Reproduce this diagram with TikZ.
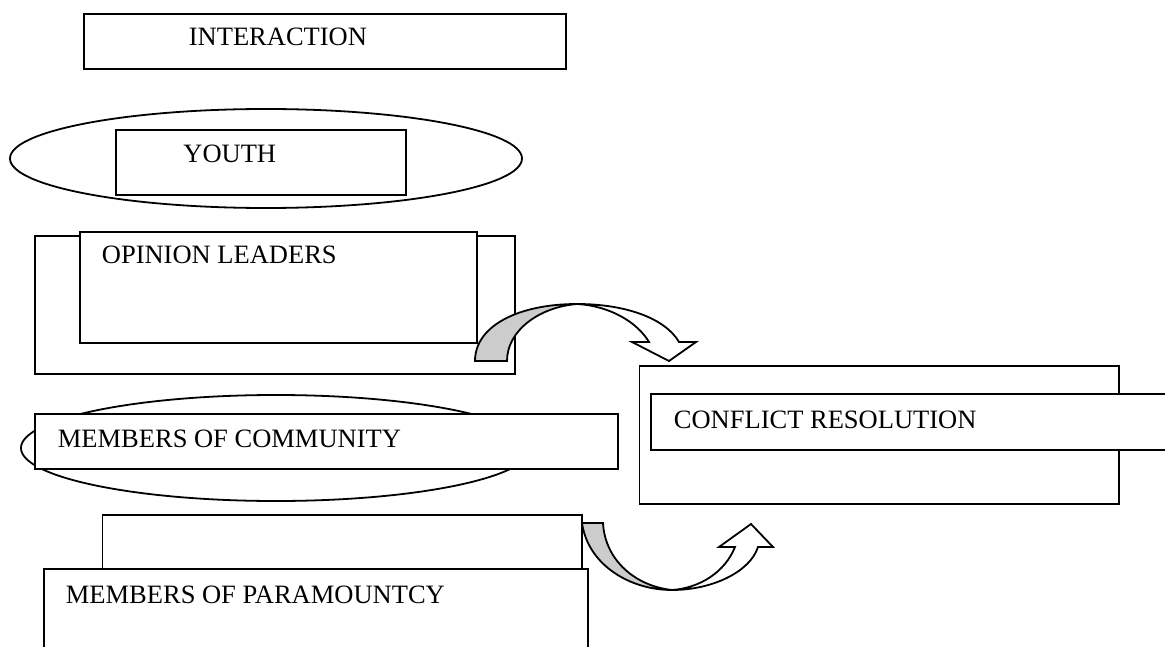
\documentclass[tikz,border=0pt]{standalone}
\usepackage{fontspec}
\setmainfont{Liberation Serif}
\begin{document}
\begin{tikzpicture}[x=1pt,y=-1pt,
  line width=1.8pt, line join=miter,
  box/.style={draw=black, fill=white, inner sep=0pt, anchor=north west},
  lbl/.style={inner sep=0pt, anchor=base west, font=\fontsize{26.5}{30}\selectfont},
  back/.style={draw=black, fill=black!20},
  front/.style={draw=black, fill=white}]
\clip (0,0) rectangle (1165,647);
\fill[white] (0,0) rectangle (1165,647);

% INTERACTION
\node[box, minimum width=482pt, minimum height=55pt] (inter) at (83,13) {};
\node[lbl] (tinter) at (188,46) {INTERACTION};

% YOUTH
\draw (266,158.5) ellipse [x radius=256pt, y radius=49.5pt];
\node[box, minimum width=290pt, minimum height=65pt] (youth) at (115,129) {};
\node[lbl] (tyouth) at (182.5,163) {YOUTH};

% OPINION LEADERS
\node[box, minimum width=480pt, minimum height=138pt] (opo) at (34,235) {};
\node[box, minimum width=397pt, minimum height=111pt] (opi) at (79,231) {};
\node[lbl] (topin) at (101,264) {OPINION LEADERS};

% curved arrow 1
\path[back] (475,361) .. controls (475,325) and (520,304) .. (577,304)
  .. controls (540,307) and (507,330) .. (507,361) -- cycle;
\path[front] (577,304) .. controls (625,304) and (665,318) .. (679,342)
  -- (696,342) -- (669,361) -- (632,342) -- (649,342)
  .. controls (637,322) and (610,306) .. (577,304) -- cycle;

% MEMBERS OF COMMUNITY
\draw (276,448) ellipse [x radius=255pt, y radius=53pt];
\node[box, minimum width=583pt, minimum height=55pt] (comm) at (34,413) {};
\node[lbl] (tcomm) at (57,447) {MEMBERS OF COMMUNITY};

% CONFLICT RESOLUTION
\node[box, minimum width=479.5pt, minimum height=138pt] (cro) at (638.5,365) {};
\node[box, minimum width=540pt, minimum height=56pt] (cri) at (650,393) {};
\node[lbl] (tcr) at (673,428) {CONFLICT RESOLUTION};

% MEMBERS OF PARAMOUNTCY
\node[box, minimum width=479.4pt, minimum height=54pt] (pup) at (101.6,514) {};
\node[box, minimum width=544.3pt, minimum height=100pt] (plo) at (42.7,568) {};
\node[lbl] (tpar) at (65,603.5) {MEMBERS OF PARAMOUNTCY};

% curved arrow 2
\path[back] (582,523) -- (603,523)
  .. controls (605,560) and (635,586) .. (672,590)
  .. controls (630,590) and (588,565) .. (582,523) -- cycle;
\path[front] (672,590) .. controls (712,590) and (750,572) .. (758,547)
  -- (773,547) -- (751,524) -- (719,547) -- (735,547)
  .. controls (725,572) and (700,588) .. (672,590) -- cycle;
\end{tikzpicture}
\end{document}
